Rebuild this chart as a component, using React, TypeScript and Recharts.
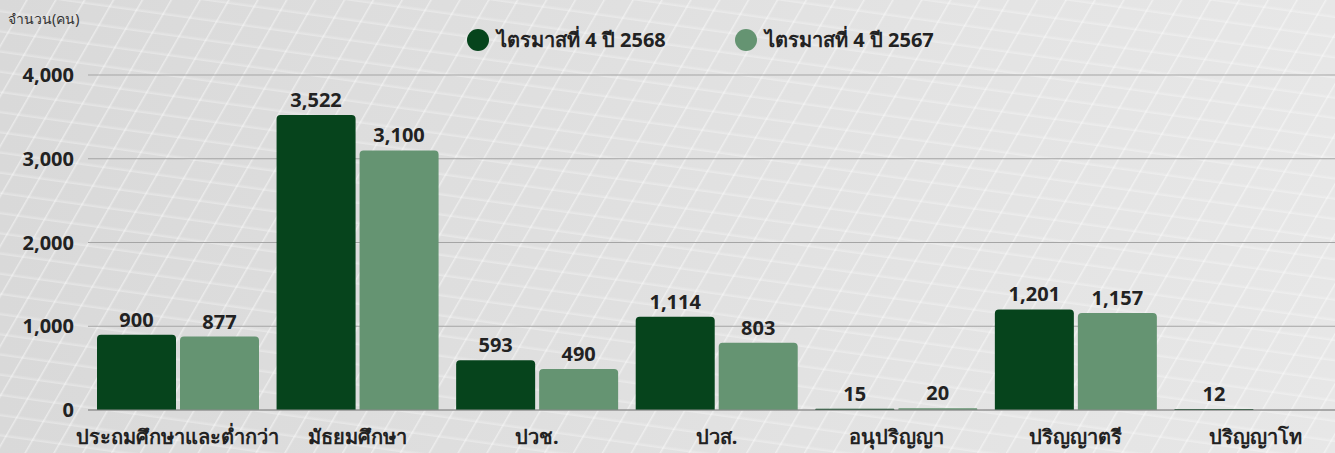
import React from 'react';
import {
  BarChart,
  Bar,
  XAxis,
  YAxis,
  CartesianGrid,
  LabelList,
} from 'recharts';

const categories = [
  'ประถมศึกษาและต่ำกว่า',
  'มัธยมศึกษา',
  'ปวช.',
  'ปวส.',
  'อนุปริญญา',
  'ปริญญาตรี',
  'ปริญญาโท',
];
const q4_2568 = [900, 3522, 593, 1114, 15, 1201, 12];
const q4_2567: (number | null)[] = [877, 3100, 490, 803, 20, 1157, null];
const yTicks = [0, 1000, 2000, 3000, 4000];

const DARK = '#06441c';
const LIGHT = '#659472';
const FONT = '"Noto Sans", "Open Sans", sans-serif';

const data = categories.map((name, i) => ({
  name,
  cur: q4_2568[i],
  prev: q4_2567[i],
}));

const fmt = (v: any) => (v == null ? '' : Number(v).toLocaleString('en-US'));

const legendItems = [
  { c: DARK, t: 'ไตรมาสที่ 4 ปี 2568', x: 467 },
  { c: LIGHT, t: 'ไตรมาสที่ 4 ปี 2567', x: 735 },
];

export default function App() {
  return (
    <div
      style={{
        position: 'absolute',
        left: 0,
        top: 0,
        width: 1335,
        height: 453,
        overflow: 'hidden',
        background:
          'repeating-linear-gradient(120deg, rgba(255,255,255,0) 0px, rgba(255,255,255,0) 22px, rgba(255,255,255,0.45) 23px, rgba(255,255,255,0) 25px), repeating-linear-gradient(8deg, rgba(255,255,255,0) 0px, rgba(255,255,255,0) 16px, rgba(255,255,255,0.3) 17px, rgba(255,255,255,0) 20px), linear-gradient(90deg, #d9d9d9 0%, #e2e2e2 60%, #e7e7e7 100%)',
      }}
    >
      <div style={{ position: 'absolute', left: 8, top: 8, fontFamily: FONT, fontSize: 14, color: '#333' }}>
        จำนวน(คน)
      </div>
      {legendItems.map((it) => (
        <div
          key={it.t}
          style={{
            position: 'absolute',
            left: it.x,
            top: 24,
            display: 'flex',
            alignItems: 'center',
            fontFamily: FONT,
            fontWeight: 700,
            fontSize: 20,
            color: '#222',
            whiteSpace: 'nowrap',
          }}
        >
          <span style={{ width: 22, height: 22, borderRadius: '50%', background: it.c, display: 'inline-block', marginRight: 8 }} />
          {it.t}
        </div>
      ))}
      <BarChart
        width={1345}
        height={453}
        data={data}
        margin={{ top: 75, right: 0, bottom: 0, left: 0 }}
        barSize={79}
        barGap={4}
        style={{ position: 'absolute', left: 0, top: 0 }}
      >
        <CartesianGrid vertical={false} stroke="#a5a5a5" />
        <XAxis
          dataKey="name"
          height={43}
          axisLine={{ stroke: '#8a8a8a' }}
          tickLine={false}
          interval={0}
          tick={{ fontFamily: FONT, fontSize: 20, fontWeight: 700, fill: '#222' }}
          tickMargin={14}
        />
        <YAxis
          width={88}
          domain={[0, 4000]}
          ticks={yTicks}
          axisLine={false}
          tickLine={false}
          tickMargin={8}
          tickFormatter={fmt}
          tick={{ fontFamily: FONT, fontSize: 20, fontWeight: 700, fill: '#222' }}
        />
        <Bar dataKey="cur" fill={DARK} radius={[4, 4, 0, 0]} isAnimationActive={false}>
          <LabelList
            dataKey="cur"
            position="top"
            offset={8}
            formatter={fmt}
            style={{ fontFamily: FONT, fontSize: 20, fontWeight: 700, fill: '#222' }}
          />
        </Bar>
        <Bar dataKey="prev" fill={LIGHT} radius={[4, 4, 0, 0]} isAnimationActive={false}>
          <LabelList
            dataKey="prev"
            position="top"
            offset={8}
            formatter={fmt}
            style={{ fontFamily: FONT, fontSize: 20, fontWeight: 700, fill: '#222' }}
          />
        </Bar>
      </BarChart>
    </div>
  );
}
